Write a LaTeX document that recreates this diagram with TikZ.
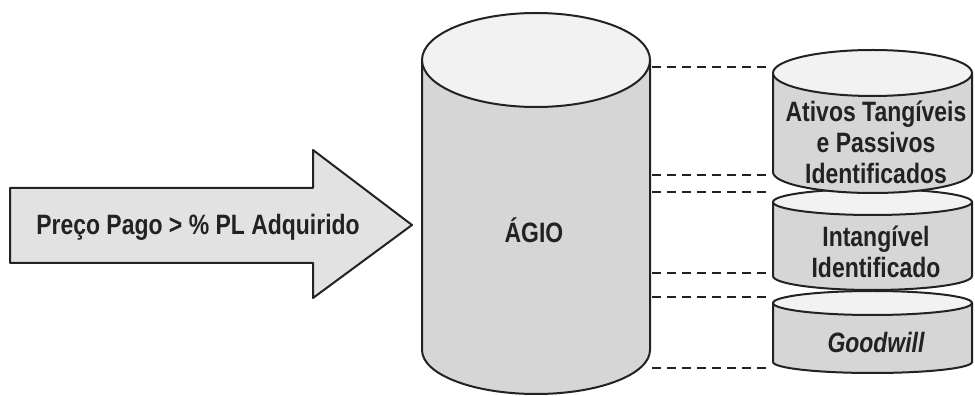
\documentclass[tikz,border=0pt]{standalone}
\usepackage{fontspec}
\setmainfont{Liberation Sans}
\newfontfamily\labfont[FakeStretch=0.82]{Liberation Sans}
\definecolor{bodygray}{HTML}{D6D6D6}
\definecolor{topgray}{HTML}{F2F2F2}
\definecolor{arrowgray}{HTML}{E2E2E2}
\definecolor{ink}{HTML}{222222}
\tikzset{
  outline/.style={draw=ink, line width=2pt, line join=round},
  link/.style={draw=ink, line width=1.5pt, dash pattern=on 9pt off 6pt},
  lab/.style={text=ink, font=\labfont\bfseries\fontsize{28}{31}\selectfont, align=center, inner sep=0pt}
}
\begin{document}
\begin{tikzpicture}[x=1pt,y=1pt]
\useasboundingbox (0,0) rectangle (975,396);
% arrow
\path[outline, fill=arrowgray] (10,208) -- (313,208) -- (313,246) -- (412,171) -- (313,98) -- (313,133) -- (10,133) -- cycle;
\node[lab, anchor=base] (preco) at (198,161) {Preço Pago > \% PL Adquirido};
% big cylinder
\fill[bodygray] (422,336) -- (422,46) arc[start angle=180, end angle=360, x radius=114, y radius=44] -- (650,336) -- cycle;
\draw[outline] (422,336) -- (422,46) arc[start angle=180, end angle=360, x radius=114, y radius=44] -- (650,336);
\draw[outline, fill=topgray] (536,336) ellipse[x radius=114, y radius=47];
\node[lab, anchor=base] (agio) at (534,153) {ÁGIO};
% small cylinders: cyl3
\fill[bodygray] (773,93) -- (773,34) arc[start angle=180, end angle=360, x radius=99.5, y radius=11] -- (972,93) -- cycle;
\draw[outline] (773,93) -- (773,34) arc[start angle=180, end angle=360, x radius=99.5, y radius=11] -- (972,93);
\draw[outline, fill=topgray] (872.5,93) ellipse[x radius=99.5, y radius=12];
\node[lab, font=\labfont\bfseries\itshape\fontsize{28}{31}\selectfont] (good) at (876,53) {Goodwill};
% cyl2
\fill[bodygray] (773,194) -- (773,120) arc[start angle=180, end angle=360, x radius=99.5, y radius=14] -- (972,194) -- cycle;
\draw[outline] (773,194) -- (773,120) arc[start angle=180, end angle=360, x radius=99.5, y radius=14] -- (972,194);
\draw[outline, fill=topgray] (872.5,194) ellipse[x radius=99.5, y radius=13];
\node[lab] (intang) at (876,144) {Intangível\\Identificado};
% cyl1
\fill[bodygray] (773,323) -- (773,224) arc[start angle=180, end angle=360, x radius=99.5, y radius=21] -- (972,323) -- cycle;
\draw[outline] (773,323) -- (773,224) arc[start angle=180, end angle=360, x radius=99.5, y radius=21] -- (972,323);
\draw[outline, fill=topgray] (872.5,323) ellipse[x radius=99.5, y radius=23];
\node[lab] (ativos) at (876,254) {Ativos Tangíveis\\e Passivos\\Identificados};
% dashed links
\coordinate (a1) at (652,329); \coordinate (b1) at (771,329);
\coordinate (a2) at (652,221); \coordinate (b2) at (771,221);
\coordinate (a3) at (652,204); \coordinate (b3) at (771,204);
\coordinate (a4) at (652,123); \coordinate (b4) at (771,123);
\coordinate (a5) at (652,99);  \coordinate (b5) at (771,99);
\coordinate (a6) at (652,28);  \coordinate (b6) at (771,28);
\draw[link] (a1) -- (b1);
\draw[link] (a2) -- (b2);
\draw[link] (a3) -- (b3);
\draw[link] (a4) -- (b4);
\draw[link] (a5) -- (b5);
\draw[link] (a6) -- (b6);
\end{tikzpicture}
\end{document}
